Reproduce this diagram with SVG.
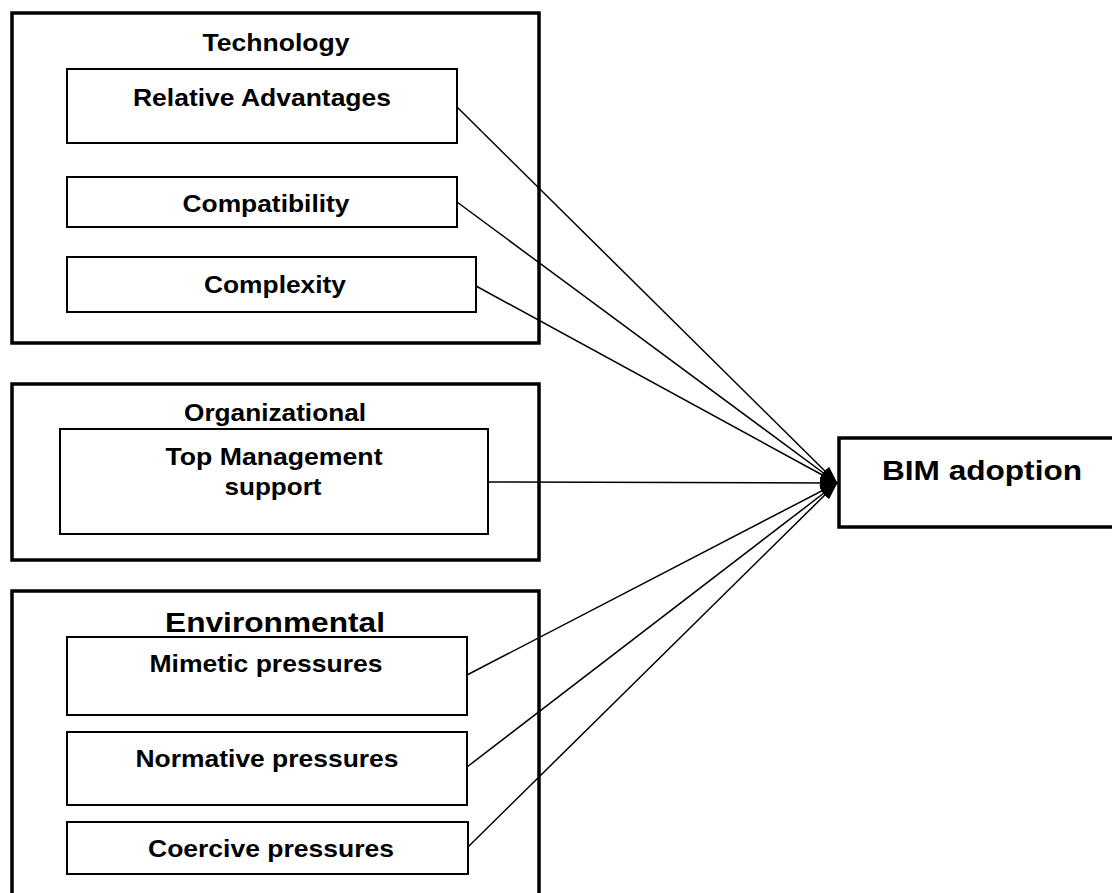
<svg xmlns="http://www.w3.org/2000/svg" width="1112" height="893" viewBox="0 0 1112 893">
<defs>
<style>
.outer{fill:none;stroke:#000;stroke-width:3.5}
.inner{fill:#fff;stroke:#000;stroke-width:2}
.bim{fill:#fff;stroke:#000;stroke-width:3.5}
.lbl{font-family:"Liberation Sans",Arial,sans-serif;font-weight:bold;font-size:24px;fill:#000;text-anchor:middle}
.big{font-size:28px}
.conn{stroke:#000;stroke-width:1.5;fill:none;marker-end:url(#arr)}
</style>
<marker id="arr" markerUnits="userSpaceOnUse" markerWidth="18" markerHeight="12" refX="17" refY="6" orient="auto">
<path d="M0,0 L18,6 L0,12 z" fill="#000"/>
</marker>
</defs>
<rect width="1112" height="893" fill="#fff"/>
<g id="technology">
<rect class="outer" x="12" y="13" width="527" height="330"/>
<text class="lbl" x="276" y="51" textLength="147" lengthAdjust="spacingAndGlyphs">Technology</text>
</g>
<g id="relative-advantages">
<rect class="inner" x="67" y="69" width="390" height="74"/>
<text class="lbl" x="262" y="106" textLength="258" lengthAdjust="spacingAndGlyphs">Relative Advantages</text>
</g>
<g id="compatibility">
<rect class="inner" x="67" y="177" width="390" height="50"/>
<text class="lbl" x="266" y="212" textLength="167" lengthAdjust="spacingAndGlyphs">Compatibility</text>
</g>
<g id="complexity">
<rect class="inner" x="67" y="257" width="409" height="55"/>
<text class="lbl" x="275" y="293" textLength="142" lengthAdjust="spacingAndGlyphs">Complexity</text>
</g>
<g id="organizational">
<rect class="outer" x="12" y="384" width="527" height="176"/>
<text class="lbl" x="275" y="421" textLength="182" lengthAdjust="spacingAndGlyphs">Organizational</text>
</g>
<g id="top-management-support">
<rect class="inner" x="60" y="429" width="428" height="105"/>
<text class="lbl" x="274" y="465" textLength="217" lengthAdjust="spacingAndGlyphs">Top Management</text>
<text class="lbl" x="273" y="495" textLength="97" lengthAdjust="spacingAndGlyphs">support</text>
</g>
<g id="environmental">
<rect class="outer" x="12" y="591" width="527" height="320"/>
<text class="lbl big" x="275" y="632" textLength="220" lengthAdjust="spacingAndGlyphs">Environmental</text>
</g>
<g id="mimetic-pressures">
<rect class="inner" x="67" y="637" width="400" height="78"/>
<text class="lbl" x="266" y="672" textLength="233" lengthAdjust="spacingAndGlyphs">Mimetic pressures</text>
</g>
<g id="normative-pressures">
<rect class="inner" x="67" y="732" width="400" height="73"/>
<text class="lbl" x="267" y="767" textLength="263" lengthAdjust="spacingAndGlyphs">Normative pressures</text>
</g>
<g id="coercive-pressures">
<rect class="inner" x="67" y="822" width="401" height="52"/>
<text class="lbl" x="271" y="857" textLength="246" lengthAdjust="spacingAndGlyphs">Coercive pressures</text>
</g>
<g id="bim-adoption">
<rect class="bim" x="839" y="438" width="290" height="89"/>
<text class="lbl big" x="982" y="480" textLength="200" lengthAdjust="spacingAndGlyphs">BIM adoption</text>
</g>
<g id="connectors">
<line class="conn" x1="457" y1="107" x2="837" y2="483"/>
<line class="conn" x1="457" y1="202" x2="837" y2="483"/>
<line class="conn" x1="476" y1="286" x2="837" y2="483"/>
<line class="conn" x1="488" y1="482" x2="837" y2="483"/>
<line class="conn" x1="467" y1="675" x2="837" y2="483"/>
<line class="conn" x1="467" y1="767" x2="837" y2="483"/>
<line class="conn" x1="468" y1="847" x2="837" y2="483"/>
</g>
</svg>
